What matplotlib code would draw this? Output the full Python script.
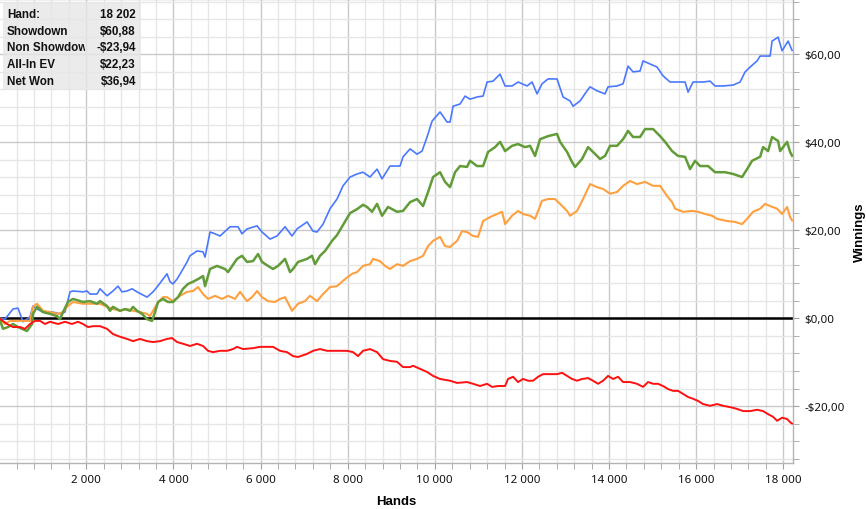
import matplotlib
matplotlib.use("Agg")
import matplotlib.pyplot as plt
from matplotlib.ticker import MultipleLocator, FuncFormatter
from matplotlib.transforms import Bbox
from matplotlib.patches import Rectangle

plt.rcParams['font.family'] = ['Noto Sans', 'DejaVu Sans']
BOLD = ['Liberation Sans', 'DejaVu Sans']

# ---------------- data ----------------
showdown_hands = [0, 133, 316, 431, 546, 707, 776, 868, 1005, 1235, 1396, 1510, 1625, 1694, 1924, 2016,
                  2084, 2245, 2314, 2475, 2612, 2727, 2819, 2934, 3049, 3164, 3393, 3531, 3623, 3760, 3852,
                  3921, 3990, 4082, 4220, 4312, 4380, 4541, 4679, 4725, 4840, 4954, 5069, 5299, 5482, 5574,
                  5689, 5919, 6034, 6217, 6378, 6562, 6722, 6837, 7067, 7204, 7296, 7434, 7595, 7755, 7893,
                  8054, 8215, 8352, 8513, 8674, 8789, 8972, 9202, 9271, 9432, 9592, 9707, 9822, 9937, 10120,
                  10281, 10350, 10419, 10580, 10694, 10809, 10970, 11108, 11200, 11337, 11498, 11613, 11774,
                  11911, 12118, 12233, 12347, 12462, 12600, 12806, 12944, 13105, 13174, 13335, 13495, 13564,
                  13725, 13908, 13977, 14184, 14322, 14436, 14551, 14712, 14781, 14942, 15102, 15240, 15401,
                  15584, 15745, 15814, 15929, 16158, 16319, 16434, 16618, 16847, 17008, 17123, 17238, 17399,
                  17468, 17697, 17743, 17881, 17973, 18110, 18202]
showdown = [0.0, -0.2, 2.1, 2.3, -0.8, 0.3, 2.8, 2.1, 1.4, 1.4, 1.0, 1.4, 6.0, 6.2, 6.0, 6.2,
            5.5, 5.5, 6.7, 5.1, 6.2, 7.3, 6.0, 6.2, 6.7, 6.0, 4.8, 6.0, 7.1, 8.9, 10.1,
            8.3, 7.8, 8.9, 11.2, 12.8, 14.2, 15.3, 15.1, 13.9, 19.6, 19.2, 18.7, 20.8, 20.8, 19.2,
            20.3, 21.0, 19.6, 18.0, 18.7, 20.8, 18.7, 20.3, 21.9, 19.8, 19.6, 21.4, 24.9, 27.1, 30.1,
            32.1, 32.8, 33.2, 32.1, 33.9, 31.7, 34.6, 34.6, 36.7, 38.5, 37.3, 38.0, 41.2, 44.8, 46.9,
            44.6, 44.6, 48.2, 48.7, 50.5, 49.8, 50.3, 50.5, 53.7, 53.9, 55.5, 52.8, 52.8,
            53.7, 52.8, 53.7, 51.0, 53.3, 54.4, 54.4, 50.3, 49.4, 48.2, 49.4, 51.7, 52.6,
            51.7, 51.0, 52.6, 52.8, 53.3, 57.3, 56.0, 56.2, 58.5, 57.8, 57.1, 55.1, 53.7,
            53.7, 53.7, 51.4, 53.7, 53.7, 53.9, 52.8, 52.8, 53.0, 53.7, 56.0, 57.1, 58.5,
            59.6, 59.6, 63.0, 63.9, 60.8, 63.0, 60.88]

netwon_hands = [0, 87, 202, 316, 431, 638, 753, 776, 868, 1005, 1166, 1327, 1396, 1464, 1579, 1694,
                1924, 2084, 2245, 2314, 2475, 2544, 2612, 2773, 2888, 3003, 3072, 3164, 3278, 3393, 3508,
                3577, 3646, 3760, 3875, 3990, 4105, 4220, 4334, 4449, 4564, 4679, 4725, 4840, 5000, 5184,
                5253, 5459, 5574, 5689, 5827, 5942, 6034, 6171, 6286, 6401, 6562, 6676, 6745, 6860, 7067,
                7181, 7250, 7365, 7480, 7641, 7755, 7893, 8054, 8215, 8352, 8444, 8559, 8674, 8789, 8926,
                9133, 9271, 9432, 9592, 9730, 9845, 9960, 10120, 10235, 10350, 10465, 10580, 10740, 10809,
                10970, 11108, 11222, 11383, 11498, 11613, 11774, 11911, 12072, 12187, 12301, 12416, 12600,
                12806, 12875, 13036, 13151, 13220, 13380, 13518, 13633, 13794, 13908, 14023, 14184, 14322,
                14436, 14551, 14712, 14827, 15011, 15172, 15286, 15447, 15585, 15745, 15860, 15975, 16090,
                16273, 16434, 16664, 16847, 17054, 17169, 17284, 17468, 17537, 17651, 17743, 17881, 17927,
                18088, 18156, 18202]
netwon = [0.0, -2.4, -2.0, -1.3, -2.0, -2.9, -1.3, 1.0, 2.6, 1.4, 1.0, 0.5, -0.2, 1.4, 3.7, 4.4,
          3.7, 3.9, 3.3, 3.9, 2.8, 1.7, 2.6, 1.7, 2.1, 1.7, 2.6, 1.7, 1.0, -0.2, -0.6,
          1.4, 3.7, 4.4, 3.7, 3.7, 4.8, 6.7, 7.8, 8.3, 8.9, 9.6, 7.3, 11.2, 11.9, 11.2,
          10.5, 13.5, 14.2, 12.8, 13.0, 14.6, 12.8, 11.9, 11.2, 11.9, 13.5, 10.5, 11.2, 12.8, 13.5,
          14.2, 12.3, 14.2, 15.3, 17.6, 18.9, 21.2, 23.9, 24.8, 25.8, 25.3, 24.2, 26.0, 23.3, 25.3,
          24.2, 24.4, 26.4, 27.1, 25.5, 28.7, 32.1, 33.2, 31.0, 29.8, 33.2, 34.6, 34.4, 35.8,
          34.6, 34.6, 37.8, 38.9, 40.1, 38.0, 39.2, 39.6, 38.9, 39.2, 36.9, 40.7, 41.4,
          41.9, 40.1, 37.8, 35.5, 34.4, 36.2, 38.9, 37.8, 36.2, 36.9, 39.2, 39.2, 40.7,
          42.6, 41.2, 41.2, 43.0, 43.0, 41.4, 40.1, 38.0, 36.9, 36.7, 33.9, 35.8, 34.6,
          34.6, 33.2, 33.2, 32.8, 32.1, 33.9, 35.8, 36.7, 38.9, 38.0, 41.2, 40.3, 38.0,
          40.1, 37.8, 36.94]

allin_hands = [0, 133, 248, 408, 546, 707, 776, 868, 1005, 1166, 1350, 1464, 1579, 1694, 1924, 2084,
               2314, 2475, 2612, 2773, 2934, 3072, 3232, 3393, 3462, 3531, 3623, 3760, 3852, 3990, 4151,
               4311, 4449, 4564, 4679, 4794, 4954, 5115, 5253, 5413, 5528, 5689, 5804, 5919, 6034, 6171,
               6332, 6447, 6562, 6722, 6860, 7020, 7135, 7296, 7434, 7595, 7755, 7939, 8100, 8215, 8352,
               8513, 8582, 8742, 8857, 8972, 9133, 9271, 9432, 9592, 9730, 9845, 9960, 10120, 10235,
               10350, 10511, 10625, 10740, 10878, 10993, 11108, 11268, 11429, 11544, 11613, 11773, 11911,
               12026, 12187, 12301, 12462, 12600, 12760, 12875, 13036, 13105, 13266, 13403, 13564, 13725,
               13863, 14023, 14184, 14322, 14483, 14643, 14827, 15011, 15172, 15332, 15447, 15516, 15699,
               15906, 16044, 16204, 16365, 16480, 16710, 16893, 17054, 17169, 17306, 17468, 17582, 17697,
               17858, 17973, 18088, 18156, 18202]
allin = [0.0, -1.3, -0.6, -0.6, -0.6, -0.6, 2.6, 3.3, 1.7, 1.4, 1.0, 1.4, 2.8, 3.7, 3.3, 3.3,
         3.3, 2.6, 2.1, 1.7, 2.1, 1.7, 1.4, 1.0, 0.5, 1.7, 3.3, 4.8, 4.8, 3.9, 5.1,
         6.0, 6.2, 7.1, 5.5, 4.4, 5.1, 4.4, 5.1, 4.4, 6.0, 3.9, 4.8, 6.2, 4.8, 3.9,
         3.7, 4.4, 4.8, 1.7, 3.3, 3.9, 5.1, 3.9, 5.5, 7.1, 7.3, 8.9, 10.1, 10.5, 11.9,
         12.3, 13.5, 13.0, 11.9, 11.2, 12.3, 11.9, 13.0, 13.5, 14.2, 16.4, 17.6, 18.5, 16.4,
         16.2, 17.6, 19.8, 19.6, 18.7, 18.5, 22.1, 23.0, 23.7, 24.2, 21.4, 23.3, 24.4,
         23.7, 23.3, 22.6, 26.7, 27.1, 27.1, 26.0, 24.4, 23.3, 24.4, 27.1, 30.5, 29.8,
         29.4, 28.3, 28.7, 30.1, 31.2, 30.5, 31.0, 30.1, 30.1, 27.8, 26.4, 24.9, 24.2,
         24.4, 24.2, 23.7, 23.3, 22.6, 22.1, 21.9, 21.4, 22.6, 24.2, 24.9, 26.0, 25.5,
         24.9, 23.7, 25.3, 23.0, 22.23]

nonsd_hands = [0, 179, 316, 477, 592, 707, 822, 936, 1051, 1166, 1350, 1510, 1671, 1809, 1924, 2038,
               2153, 2314, 2475, 2612, 2773, 2934, 3072, 3232, 3393, 3531, 3691, 3852, 3967, 4082, 4220,
               4380, 4541, 4679, 4794, 4908, 5069, 5230, 5367, 5459, 5597, 5827, 5988, 6148, 6286, 6447,
               6607, 6745, 6860, 7067, 7204, 7365, 7526, 7664, 7824, 7985, 8123, 8237, 8352, 8513, 8674,
               8812, 8972, 9133, 9271, 9432, 9500, 9661, 9822, 9960, 10120, 10350, 10511, 10740, 10878,
               11038, 11199, 11314, 11452, 11613, 11681, 11796, 11911, 12026, 12141, 12256, 12370, 12485,
               12646, 12806, 12921, 13036, 13151, 13266, 13380, 13518, 13633, 13748, 13863, 13977, 14092,
               14207, 14322, 14483, 14643, 14781, 14896, 15011, 15125, 15240, 15355, 15470, 15585, 15699,
               15814, 15929, 16044, 16158, 16319, 16480, 16618, 16778, 16939, 17077, 17238, 17399, 17537,
               17651, 17766, 17858, 17973, 18088, 18156, 18202]
nonsd = [0.0, -1.3, -2.0, -2.0, -2.4, -1.3, -0.6, -0.6, -1.3, -0.8, -1.3, -0.8, -1.3, -0.8, -1.3, -2.0,
         -1.8, -1.8, -2.4, -3.6, -4.2, -4.7, -5.2, -4.7, -5.2, -5.4, -5.2, -4.7, -4.5, -5.4, -5.8,
         -6.3, -5.8, -6.3, -7.4, -7.7, -7.4, -7.4, -7.0, -6.5, -7.0, -6.8, -6.5, -6.5, -6.5, -7.4,
         -7.7, -8.6, -8.8, -8.1, -7.4, -7.0, -7.4, -7.4, -7.4, -7.4, -7.7, -8.6, -7.4, -7.0, -7.7,
         -9.3, -9.7, -9.9, -11.1, -11.1, -10.8, -11.5, -12.2, -13.1, -13.8, -14.2, -14.7, -14.5, -14.9,
         -15.4, -14.9, -15.6, -15.4, -15.4, -13.8, -13.3, -14.5, -13.8, -14.2, -14.2, -13.3, -12.7,
         -12.7, -12.7, -12.4, -13.1, -13.8, -14.2, -13.8, -13.6, -14.2, -14.9, -14.2, -13.1, -13.8,
         -13.3, -14.5, -14.5, -14.9, -15.6, -14.5, -14.9, -14.9, -15.4, -16.1, -16.5, -16.5, -17.2,
         -17.9, -18.3, -18.8, -19.5, -19.9, -19.5, -19.9, -20.2, -20.6, -21.1, -21.1, -20.8, -21.1,
         -21.8, -22.4, -23.3, -22.6, -22.9, -23.6, -23.94]

summary_labels = ["Hand:", "Showdown", "Non Showdown", "All-In EV", "Net Won"]
summary_values = ["18 202", "$60,88", "-$23,94", "$22,23", "$36,94"]

# ---------------- figure ----------------
W, H = 866, 510
fig = plt.figure(figsize=(W / 100, H / 100), dpi=100)
ax = fig.add_axes([0.0, 46 / H, 793 / W, 464 / H])

ax.set_xlim(18, 18223)
ax.set_ylim(-32.9, 72.57)

ax.xaxis.set_major_locator(MultipleLocator(2000))
ax.xaxis.set_minor_locator(MultipleLocator(400))
ax.yaxis.set_major_locator(MultipleLocator(20))
ax.yaxis.set_minor_locator(MultipleLocator(4))

ax.grid(which='major', color='#c9c9c9', linewidth=1.0, zorder=0)
ax.grid(which='minor', color='#e6e6e6', linewidth=1.0, zorder=0)
ax.set_axisbelow(True)

ax.yaxis.tick_right()
ax.yaxis.set_label_position('right')

def xfmt(v, pos):
    return f"{int(round(v)):,}".replace(",", " ")

def yfmt(v, pos):
    s = f"{abs(v):.2f}".replace(".", ",")
    return ("-$" if v < -1e-9 else "$") + s

ax.xaxis.set_major_formatter(FuncFormatter(xfmt))
ax.yaxis.set_major_formatter(FuncFormatter(yfmt))

ax.tick_params(axis='both', which='both', colors='#a0a0a0', labelcolor='#111111',
               labelsize=8.3, direction='out')
ax.tick_params(axis='x', which='major', length=4, pad=4)
ax.tick_params(axis='x', which='minor', length=4)
ax.tick_params(axis='y', which='major', length=4, pad=4)
ax.tick_params(axis='y', which='minor', length=4)

ax.spines['left'].set_visible(False)
for side in ['top', 'right', 'bottom']:
    ax.spines[side].set_color('#b4b4b4')
    ax.spines[side].set_linewidth(1.0)

ax.set_xlabel("Hands", fontsize=9.5, fontweight='bold', family=BOLD, labelpad=7)
ax.set_ylabel("Winnings", fontsize=9.5, fontweight='bold', family=BOLD, labelpad=7, rotation=90)

ax.axhline(0, color='black', linewidth=1.8, zorder=2)

ax.plot(showdown_hands, showdown, color='#4a78ff', linewidth=1.2, zorder=3)
ax.plot(allin_hands, allin, color='#ffa040', linewidth=1.5, zorder=4)
ax.plot(netwon_hands, netwon, color='#629c38', linewidth=1.8, zorder=5)
ax.plot(nonsd_hands, nonsd, color='#ff1010', linewidth=1.4, zorder=6)

# ---------------- summary box ----------------
box = Rectangle((3 / W, 1 - 91 / H), 138 / W, 88 / H, transform=fig.transFigure,
                facecolor='#e6e6e6', edgecolor='none', alpha=0.8, zorder=10)
fig.patches.append(box)

row_y = [14.7, 32.0, 48.3, 65.0, 82.0]
clip = Bbox.from_extents(0, 0, 85, H)
for lab, val, yy in zip(summary_labels, summary_values, row_y):
    t = fig.text(7 / W, 1 - yy / H, lab, fontsize=8.4, fontweight='bold', family=BOLD,
                 ha='left', va='center', color='#111111', zorder=11)
    t.set_clip_box(clip)
    t.set_clip_on(True)
    fig.text(136 / W, 1 - yy / H, val, fontsize=8.4, fontweight='bold', family=BOLD,
             ha='right', va='center', color='#111111', zorder=11)

fig.savefig("out.png", dpi=100)
